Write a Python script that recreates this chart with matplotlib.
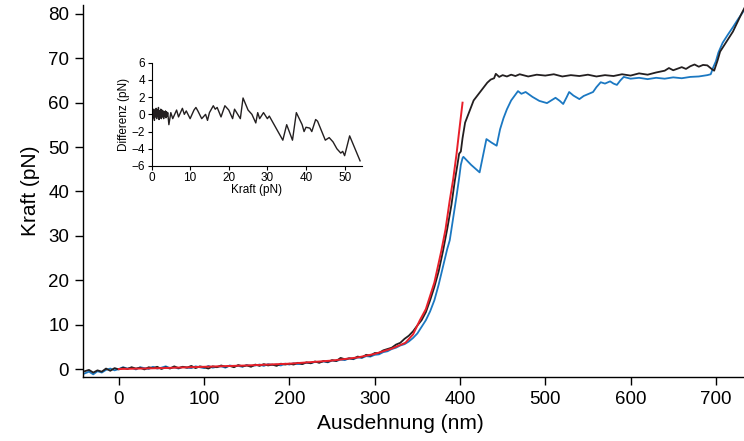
import matplotlib
matplotlib.use("Agg")
import matplotlib.pyplot as plt

plt.rcParams['font.family'] = ['Liberation Sans', 'DejaVu Sans']

# ---------------- data ----------------
black_x = [-40, -35, -30, -25, -20, -15, -10, -5, 0, 5, 10, 15, 20, 25, 30, 35, 40, 45, 50, 55,
           60, 65, 70, 75, 80, 85, 90, 95, 100, 105, 110, 115, 120, 125, 130, 135, 140, 145, 150, 155,
           160, 165, 170, 175, 180, 185, 190, 195, 200, 205, 210, 215, 220, 225, 230, 235, 240, 245, 250, 255,
           260, 265, 270, 275, 280, 285, 290, 295, 300, 305, 310, 315, 320, 325, 330, 335, 340, 345, 350, 355,
           360, 365, 370, 375, 380, 385, 390, 394, 397, 399, 401, 403, 406, 409, 412, 416, 420, 424, 428, 432,
           436, 440, 442, 446, 450, 455, 460, 465, 470, 480, 490, 500, 510, 520, 530, 540, 550, 560, 570, 580,
           590, 600, 610, 620, 630, 640, 645, 650, 660, 665, 670, 675, 680, 685, 690, 695, 698, 702, 705, 710,
           715, 720, 725, 730, 734]
black_y = [-0.5, -0.2, -0.8, -0.3, -0.6, 0.1, -0.4, 0.2, -0.1, 0.3, 0.0, 0.4, 0.1, 0.3, -0.1, 0.4, 0.2, 0.5, 0.0, 0.4,
           0.1, 0.6, 0.2, 0.5, 0.3, 0.7, 0.2, 0.6, 0.4, 0.1, 0.6, 0.4, 0.8, 0.5, 0.7, 0.4, 0.9, 0.6, 0.8, 0.5,
           1.0, 0.7, 1.1, 0.8, 1.0, 0.7, 1.2, 1.0, 1.2, 1.0, 1.4, 1.1, 1.5, 1.3, 1.7, 1.4, 1.8, 1.6, 2.0, 1.8,
           2.5, 2.2, 2.4, 2.3, 2.8, 2.6, 3.2, 3.0, 3.6, 3.6, 4.2, 4.5, 4.8, 5.5, 5.9, 6.8, 7.5, 8.5, 9.8, 11.0,
           12.8, 15.5, 18.5, 22.0, 26.5, 31.5, 37.0, 42.5, 46.0, 48.5, 49.0, 52.0, 55.5, 57.0, 58.5, 60.5, 61.5, 62.5, 63.5, 64.5,
           65.2, 65.5, 66.5, 65.8, 66.2, 65.9, 66.3, 66.0, 66.4, 65.9, 66.3, 66.1, 66.4, 65.9, 66.2, 66.0, 66.3, 65.9, 66.2, 66.0,
           66.4, 66.1, 66.6, 66.3, 66.8, 67.2, 67.8, 67.3, 68.0, 67.6, 68.2, 68.6, 68.1, 68.5, 68.4, 67.6, 67.2, 69.5, 71.5, 73.0,
           74.5, 76.0, 78.0, 80.0, 81.5]

blue_x = [-40, -35, -30, -25, -20, -15, -10, -5, 0, 5, 10, 15, 20, 25, 30, 35, 40, 45, 50, 55,
          60, 65, 70, 75, 80, 85, 90, 95, 100, 105, 110, 115, 120, 125, 130, 135, 140, 145, 150, 155,
          160, 165, 170, 175, 180, 185, 190, 195, 200, 205, 210, 215, 220, 225, 230, 235, 240, 245, 250, 255,
          260, 265, 270, 275, 280, 285, 290, 295, 300, 305, 310, 315, 320, 325, 330, 335, 340, 345, 350, 355,
          360, 365, 370, 375, 380, 385, 388, 392, 396, 399, 401, 403, 404, 413, 423, 427, 431, 437, 443, 447,
          451, 455, 460, 465, 468, 472, 477, 485, 493, 502, 507, 512, 517, 521, 525, 528, 533, 540, 545, 550,
          556, 560, 565, 570, 576, 580, 584, 588, 592, 600, 610, 620, 630, 640, 650, 660, 670, 680, 690, 694,
          697, 700, 703, 708, 714, 720, 726, 731, 734]
blue_y = [-1.0, -0.6, -1.2, -0.5, -0.8, -0.2, 0.1, -0.3, 0.0, 0.4, 0.1, 0.3, -0.1, 0.4, 0.2, 0.0, 0.5, 0.1, 0.3, 0.6,
          0.2, 0.4, 0.1, 0.5, 0.3, 0.2, 0.6, 0.4, 0.2, 0.7, 0.3, 0.5, 0.6, 0.3, 0.8, 0.6, 0.7, 0.5, 0.9, 0.7,
          0.8, 1.0, 0.7, 1.1, 0.9, 1.0, 0.8, 1.2, 1.0, 1.3, 1.1, 1.2, 1.4, 1.3, 1.6, 1.5, 1.7, 1.5, 1.9, 1.8,
          2.1, 2.0, 2.4, 2.2, 2.6, 2.5, 2.9, 2.8, 3.2, 3.3, 3.8, 4.0, 4.5, 4.8, 5.3, 5.6, 6.2, 7.0, 8.0, 9.5,
          11.0, 13.0, 15.5, 19.0, 23.0, 27.0, 29.0, 34.0, 39.0, 43.0, 46.0, 47.5, 47.8, 46.0, 44.3, 48.0, 51.8, 51.0, 50.3, 54.0,
          56.5, 58.5, 60.5, 61.8, 62.6, 62.0, 62.4, 61.3, 60.4, 59.9, 60.5, 61.1, 60.4, 59.7, 61.2, 62.4, 61.6, 60.8, 61.5, 61.9,
          62.4, 63.5, 64.6, 64.3, 64.8, 64.3, 64.0, 65.0, 65.8, 65.4, 65.6, 65.3, 65.6, 65.4, 65.7, 65.5, 65.8, 65.9, 66.2, 66.4,
          68.0, 69.3, 71.3, 73.5, 75.3, 77.0, 78.8, 80.2, 81.2]

fit_x = [0, 50, 100, 150, 200, 250, 280, 300, 320, 336, 345, 353, 360, 365, 370, 374, 378, 383, 388, 392, 396, 399, 403]
fit_y = [0.0, 0.2, 0.5, 0.8, 1.2, 1.9, 2.6, 3.4, 4.6, 5.9, 7.8, 11.0, 13.5, 16.5, 19.5, 23.0, 26.5, 31.4, 38.0, 42.7, 48.5, 53.5, 60.0]

diff_x = [0.0, 0.15, 0.3, 0.45, 0.6, 0.75, 0.9, 1.05, 1.2, 1.35, 1.5, 1.65, 1.8, 1.95, 2.1, 2.25, 2.4, 2.55,
          2.7, 2.85, 3.0, 3.15, 3.3, 3.45, 3.6, 3.75, 3.9, 4.05, 4.2, 4.5, 5.0, 5.5, 6.5, 7.0, 8.0, 8.5, 9.0,
          10.0, 11.0, 11.5, 12.0, 13.0, 14.0, 14.5, 15.0, 16.0, 16.5, 17.0, 18.0, 19.0, 20.0, 21.0, 21.5, 23.0,
          23.7, 25.0, 26.0, 27.0, 27.5, 28.0, 29.0, 30.0, 30.5, 34.0, 35.0, 36.5, 37.5, 39.0, 39.5, 40.0, 41.0,
          41.5, 42.5, 43.0, 45.0, 46.0, 47.0, 48.0, 49.0, 49.5, 50.0, 51.3, 54.0]
diff_y = [0.3, -0.6, 0.5, -0.4, 0.6, -0.7, 0.4, -0.3, 0.7, -0.5, 0.5, -0.2, 0.8, -0.6, 0.4, -0.4, 0.6, -0.5,
          0.5, -0.3, 0.4, -0.5, 0.3, -0.2, 0.4, -0.4, 0.3, -0.2, 0.2, -1.2, 0.2, -0.5, 0.5, -0.3, 0.7, 0.0,
          0.4, -0.5, 0.5, 0.8, 0.4, -0.5, 0.0, -0.7, 0.2, 1.0, 0.6, 0.8, -0.3, 1.0, 0.5, -0.5, 0.6,
          -0.5, 1.9, 0.5, 0.0, -1.0, 0.2, -0.5, 0.2, -0.5, -0.2, -3.0, -1.2, -3.0, 0.2, -1.2, -2.0, -1.5,
          -1.6, -2.0, -0.6, -0.8, -3.0, -2.7, -3.2, -4.0, -4.5, -4.3, -4.8, -2.5, -5.4]

main_xticks = [0, 100, 200, 300, 400, 500, 600, 700]
main_yticks = [0, 10, 20, 30, 40, 50, 60, 70, 80]
inset_xticks = [0, 10, 20, 30, 40, 50]
inset_yticks = [-6, -4, -2, 0, 2, 4, 6]

# ---------------- figure ----------------
fig = plt.figure(figsize=(7.44, 4.41), dpi=100)
ax = fig.add_axes([83 / 744, (441 - 377) / 441, (744 - 83) / 744, (377 - 5) / 441])

BLUE = '#1b78c2'
BLACK = '#231f20'
RED = '#e8202a'

ax.plot(blue_x, blue_y, color=BLUE, lw=1.3, zorder=2)
ax.plot(black_x, black_y, color=BLACK, lw=1.3, zorder=3)
ax.plot(fit_x, fit_y, color=RED, lw=1.4, zorder=4)

ax.set_xlim(-42, 733)
ax.set_ylim(-1.8, 82)
ax.set_xticks(main_xticks)
ax.set_yticks(main_yticks)
for s in ['top', 'right']:
    ax.spines[s].set_visible(False)
for s in ['left', 'bottom']:
    ax.spines[s].set_linewidth(1.0)
ax.tick_params(direction='out', length=6, width=1.0, labelsize=13.5, pad=4)
ax.set_xlabel('Ausdehnung (nm)', fontsize=15, labelpad=2)
ax.xaxis.set_label_coords(0.48, -0.1)
ax.set_ylabel('Kraft (pN)', fontsize=15, labelpad=6)

# ---------------- inset ----------------
ins = fig.add_axes([151.5 / 744, (441 - 166) / 441, (362 - 151.5) / 744, (166 - 62.7) / 441])
ins.plot(diff_x, diff_y, color=BLACK, lw=1.0)
ins.set_xlim(0, 54.5)
ins.set_ylim(-6, 6)
ins.set_xticks(inset_xticks)
ins.set_yticks(inset_yticks)
for s in ['top', 'right']:
    ins.spines[s].set_visible(False)
for s in ['left', 'bottom']:
    ins.spines[s].set_linewidth(0.8)
ins.tick_params(direction='out', length=3, width=0.8, labelsize=8.5, pad=1.5)
ins.set_xlabel('Kraft (pN)', fontsize=8.5, labelpad=0)
ins.set_ylabel('Differenz (pN)', fontsize=8.5, labelpad=1)
ins.patch.set_alpha(0)

fig.savefig('out.png', dpi=100)
